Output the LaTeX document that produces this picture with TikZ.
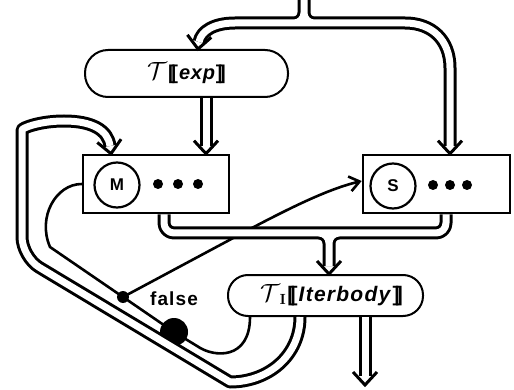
\documentclass[tikz,border=0pt]{standalone}
\usepackage{fontspec}
\setsansfont{Liberation Sans}
\usetikzlibrary{arrows.meta,calc}
% heavy double brackets and the script evaluation symbol
\newcommand{\lsem}{{\sffamily\bfseries[\kern-0.17em[}}
\newcommand{\rsem}{{\sffamily\bfseries]\kern-0.17em]}}
\newcommand{\evalT}{{\fontsize{27}{27}\selectfont$\mathcal{T}$}}
\begin{document}
\begin{tikzpicture}[x=1pt,y=-1pt,
  chan/.style={double, double distance=7pt, line width=3pt, line join=round},
  wire/.style={line width=2.6pt, line cap=round},
  roundbox/.style={draw, line width=2pt, rounded corners=20pt, inner sep=0pt},
  unitbox/.style={draw, line width=2.6pt, inner sep=0pt},
  port/.style={draw, circle, line width=2.2pt, minimum size=45pt, inner sep=0pt,
    font=\fontsize{17}{17}\sffamily\bfseries},
  junction/.style={circle, fill, inner sep=0pt},
  dtip/.pic={\draw[line width=3pt, line join=miter] (-12,-13) -- (0,0) -- (12,-13);}
]
\useasboundingbox (0,0) rectangle (514,390);

% evaluation boxes
\node[roundbox, minimum width=203pt, minimum height=47pt, rounded corners=23pt,
      font=\fontsize{20}{24}\selectfont] (exp) at (186.5,73.5)
  {\evalT\kern1pt\lsem\kern1pt\textsf{\bfseries\itshape\addfontfeature{LetterSpace=4}exp}\rsem};
\node[roundbox, minimum width=195pt, minimum height=41pt,
      font=\fontsize{21}{24}\selectfont] (iter) at (325.5,295.5)
  {\hspace*{12pt}\evalT$_{\mathbf{I}}$\kern1pt\lsem\kern1pt\textsf{\bfseries\itshape\addfontfeature{LetterSpace=6}Iterbody}\rsem};

% unit boxes with their ports
\node[unitbox, minimum width=146pt, minimum height=58pt] (mbox) at (156,184) {};
\node[unitbox, minimum width=147pt, minimum height=58pt] (sbox) at (436.5,184) {};
\node[port] (m) at (117,185) {M};
\node[port] (s) at (393,186) {S};
\foreach \x in {158,178,198} \fill (\x,184) circle[radius=5];
\foreach \x in {433,450,467} \fill (\x,185) circle[radius=5];

% branch points and label
\node[junction, minimum size=12pt] (sdot) at (123,297) {};
\node[junction, minimum size=28pt] (bdot) at (174,332) {};
\node[font=\fontsize{19}{19}\sffamily\bfseries\addfontfeature{LetterSpace=6}] (lbl) at (174,299) {false};

% single control wires
\draw[wire] (mbox.west) .. controls (56,184) and (37,217) .. (50,247)
  -- (sdot.center) -- (bdot.center);
\draw[wire] (bdot.center) -- (197,346) .. controls (214,358) and (250,360) .. (250,0 |- iter.south);
\draw[wire, -{Straight Barb[length=10pt, width=15pt]}] (sdot.center) -- (250,229)
  .. controls (290,208) and (328,189) .. ($(sbox.west)+(0,-3)$);

% incoming flow split to exp and S
\draw[chan] (304,-8) -- (304,13)
  (199,42) .. controls (201,31) and (214,23) .. (235,23) -- (405,23)
     .. controls (432,23) and (450,40) .. (450,68) -- (450,146)
  (304,13) .. controls (304,18.5) and (299.5,23) .. (294,23)
  (304,13) .. controls (304,18.5) and (308.5,23) .. (314,23);
\pic[rotate=-6] at (198,0 |- exp.north) {dtip};
\pic at (450,0 |- sbox.north) {dtip};

% exp into M
\draw[chan] (206,0 |- exp.south) -- (206,146);
\pic at (206,0 |- mbox.north) {dtip};

% M and S merge into Iterbody
\draw[chan] (164,0 |- mbox.south) [rounded corners=10pt] -- (164,233) -- (446,233)
     -- (446,0 |- sbox.south) [sharp corners]
  (329,243) -- (329,266)
  (319,233) .. controls (324.5,233) and (329,237.5) .. (329,243)
  (339,233) .. controls (333.5,233) and (329,237.5) .. (329,243);
\pic at (329,0 |- iter.north) {dtip};

% exit
\draw[chan] (365,0 |- iter.south) -- (365,376);
\pic at (365,385) {dtip};

% loop back into M
\draw[chan] (300,0 |- iter.south) .. controls (300,356) and (268,382) .. (230,382)
  [rounded corners=20pt] -- (22,257) -- (22,150) [sharp corners]
  .. controls (22,128) and (40,121) .. (64,121)
  .. controls (92,121) and (108,130) .. (110,146);
\pic[rotate=8] at (111,0 |- mbox.north) {dtip};
\end{tikzpicture}
\end{document}
